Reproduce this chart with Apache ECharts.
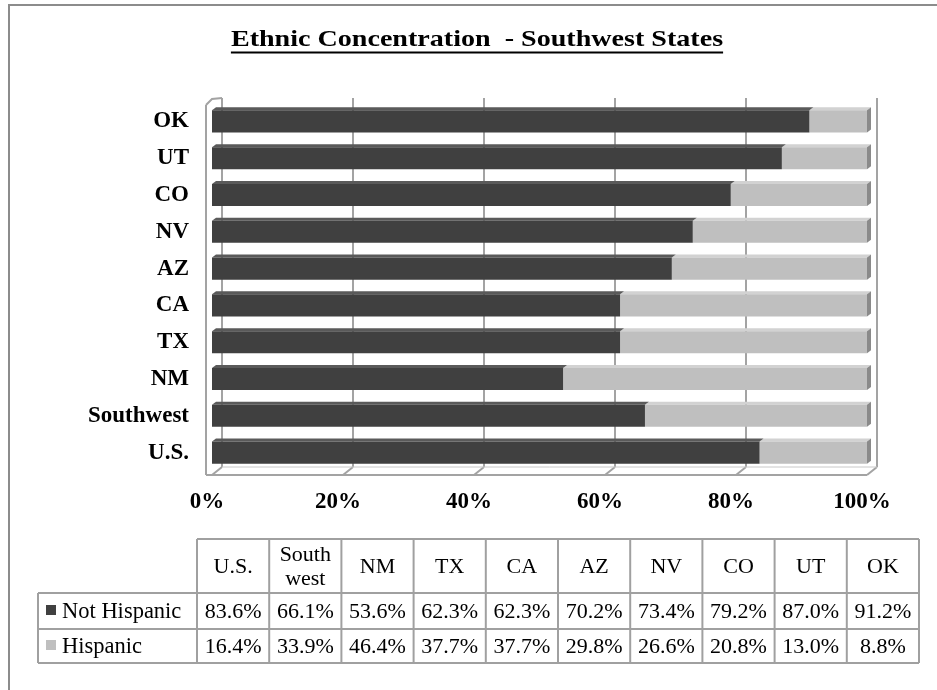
<!DOCTYPE html>
<html>
<head>
<meta charset="utf-8">
<script src="https://cdn.jsdelivr.net/npm/echarts@6/dist/echarts.min.js"></script>
<style>
  html, body { margin: 0; padding: 0; background: #fff; }
  #chart { width: 937px; height: 690px; }
</style>
</head>
<body>
<div id="chart"></div>
<script>
// Ethnic share by state (percent of population)
const categories = ['U.S.', 'Southwest', 'NM', 'TX', 'CA', 'AZ', 'NV', 'CO', 'UT', 'OK'];
const tableHeads = ['U.S.', 'South\nwest', 'NM', 'TX', 'CA', 'AZ', 'NV', 'CO', 'UT', 'OK'];
const seriesNames = ['Not Hispanic', 'Hispanic'];
const notHispanic = [83.6, 66.1, 53.6, 62.3, 62.3, 70.2, 73.4, 79.2, 87.0, 91.2];
const hispanic = [16.4, 33.9, 46.4, 37.7, 37.7, 29.8, 26.6, 20.8, 13.0, 8.8];
const xTicks = [0, 20, 40, 60, 80, 100];
const titleText = 'Ethnic Concentration  - Southwest States';

const SERIF = '"Liberation Serif", "Times New Roman", serif';
const frontColors = ['#404040', '#bfbfbf'];
const topColors = ['#5a5a5a', '#d2d2d2'];
const capColor = '#8a8a8a';
const lineGray = '#a3a3a3';

// depth of the floor/walls and of the bars
const WALL_D = [10, -8];
const BAR_D = [4, -3];

const chart = echarts.init(document.getElementById('chart'), null, { renderer: 'canvas' });

// stacked segments: [catIndex, start, end]
function segments(values, base) {
  return values.map((v, i) => [i, base ? base[i] : 0, (base ? base[i] : 0) + v]);
}
const segNot = segments(notHispanic);
const segHis = segments(hispanic, notHispanic);

function barRender(seriesIdx, withCap) {
  return function (params, api) {
    const cat = api.value(0);
    const p0 = api.coord([api.value(1), cat]);
    const p1 = api.coord([api.value(2), cat]);
    const h = api.size([0, 1])[1] * 0.6;
    const yTop = p0[1] - h / 2;
    const yBot = p0[1] + h / 2;
    const x0 = p0[0], x1 = p1[0];
    const [dx, dy] = BAR_D;
    const children = [
      {
        type: 'polygon',
        shape: { points: [[x0, yTop], [x0 + dx, yTop + dy], [x1 + dx, yTop + dy], [x1, yTop]] },
        style: { fill: topColors[seriesIdx] }
      },
      {
        type: 'rect',
        shape: { x: x0, y: yTop, width: x1 - x0, height: yBot - yTop },
        style: { fill: frontColors[seriesIdx] }
      }
    ];
    if (withCap) {
      children.push({
        type: 'polygon',
        shape: { points: [[x1, yTop], [x1 + dx, yTop + dy], [x1 + dx, yBot + dy], [x1, yBot]] },
        style: { fill: capColor }
      });
    }
    return { type: 'group', children };
  };
}

// walls and floor of the plot box
function frameRender(params, api) {
  const cs = params.coordSys;
  const [dx, dy] = WALL_D;
  const floorFront = cs.y + cs.height + 4;
  const floorBack = floorFront + dy;
  const wallTop = cs.y - 5;
  const children = [];
  const ls = { stroke: lineGray, lineWidth: 2, fill: null };
  xTicks.forEach(t => {
    const xf = api.coord([t, 0])[0];
    const xb = xf + dx;
    children.push({ type: 'line', shape: { x1: xb, y1: wallTop, x2: xb, y2: floorBack }, style: ls });
    children.push({ type: 'line', shape: { x1: xb, y1: floorBack, x2: xf, y2: floorFront }, style: ls });
  });
  const xl = api.coord([0, 0])[0];
  const xr = api.coord([100, 0])[0];
  // floor edges
  children.push({ type: 'line', shape: { x1: xl - 6, y1: floorFront, x2: xr, y2: floorFront }, style: ls });
  children.push({ type: 'line', shape: { x1: xl + dx, y1: floorBack, x2: xr + dx, y2: floorBack }, style: { stroke: '#c8c8c8', lineWidth: 1 } });
  // left wall
  children.push({ type: 'line', shape: { x1: xl - 6, y1: wallTop + 7, x2: xl - 6, y2: floorFront }, style: ls });
  children.push({ type: 'polyline', shape: { points: [[xl - 6, wallTop + 7], [xl, wallTop + 1], [xl + dx, wallTop]] }, style: ls });
  return { type: 'group', children };
}

function buildTable() {
  const els = [];
  const x0 = 197, colW = 72.2, xLab = 38;
  const yHead = 539, yR1 = 593, yR2 = 629, yEnd = 663;
  const xEnd = x0 + colW * categories.length;
  const ls = { stroke: '#a0a0a0', lineWidth: 2 };
  const hl = (xa, xb, y) => els.push({ type: 'line', shape: { x1: xa, y1: y, x2: xb, y2: y }, style: ls });
  const vl = (x, ya, yb) => els.push({ type: 'line', shape: { x1: x, y1: ya, x2: x, y2: yb }, style: ls });
  hl(x0, xEnd, yHead);
  hl(xLab, xEnd, yR1);
  hl(xLab, xEnd, yR2);
  hl(xLab, xEnd, yEnd);
  vl(xLab, yR1, yEnd);
  for (let i = 0; i <= categories.length; i++) vl(x0 + colW * i, yHead, yEnd);
  const font = '22px ' + SERIF;
  tableHeads.forEach((h, i) => {
    const two = h.indexOf('\n') >= 0;
    els.push({
      type: 'text',
      style: {
        text: h, x: x0 + colW * (i + 0.5), y: (yHead + yR1) / 2 + 1,
        align: 'center', verticalAlign: 'middle', font, fill: '#000',
        lineHeight: two ? 24 : 22
      }
    });
  });
  const rows = [notHispanic, hispanic];
  const rowY = [(yR1 + yR2) / 2 + 1, (yR2 + yEnd) / 2 + 1];
  rows.forEach((vals, r) => {
    els.push({ type: 'rect', shape: { x: 46, y: rowY[r] - 7, width: 10, height: 10 }, style: { fill: frontColors[r] } });
    els.push({
      type: 'text',
      style: { text: seriesNames[r], x: 62, y: rowY[r], align: 'left', verticalAlign: 'middle', font: '22.5px ' + SERIF, fill: '#000' }
    });
    vals.forEach((v, i) => {
      els.push({
        type: 'text',
        style: {
          text: v.toFixed(1) + '%', x: x0 + colW * (i + 0.5), y: rowY[r],
          align: 'center', verticalAlign: 'middle', font, fill: '#000'
        }
      });
    });
  });
  return els;
}

// title with underline (type is slightly widened)
const titleFont = 'bold 24px ' + SERIF;
const titleStretch = 1.17;
const measure = document.createElement('canvas').getContext('2d');
measure.font = titleFont;
const titleW = measure.measureText(titleText).width * titleStretch;
const titleCx = 477;

const option = {
  animation: false,
  backgroundColor: '#fff',
  grid: { left: 212, width: 655, top: 103, height: 368, containLabel: false },
  xAxis: {
    type: 'value', min: 0, max: 100, interval: 20,
    axisLine: { show: false }, axisTick: { show: false }, splitLine: { show: false },
    axisLabel: {
      formatter: '{value}%', margin: 20, padding: [0, 10, 0, 0],
      fontFamily: SERIF, fontSize: 23, fontWeight: 'bold', color: '#000'
    }
  },
  yAxis: {
    type: 'category', data: categories,
    axisLine: { show: false }, axisTick: { show: false },
    axisLabel: { margin: 23, fontFamily: SERIF, fontSize: 23, fontWeight: 'bold', color: '#000' }
  },
  series: [
    {
      type: 'custom', name: 'frame', renderItem: frameRender, data: [[0]], silent: true, z: 1,
      encode: { x: -1, y: -1 }, clip: false
    },
    {
      type: 'custom', name: seriesNames[0], renderItem: barRender(0, false), data: segNot, z: 3,
      encode: { x: [1, 2], y: 0 }
    },
    {
      type: 'custom', name: seriesNames[1], renderItem: barRender(1, true), data: segHis, z: 2,
      encode: { x: [1, 2], y: 0 }
    }
  ],
  graphic: [
    {
      type: 'rect', shape: { x: 9, y: 5, width: 960, height: 720 },
      style: { fill: null, stroke: '#8c8c8c', lineWidth: 2 }, silent: true, z: 0
    },
    {
      type: 'text', x: titleCx, y: 40, scaleX: titleStretch,
      style: { text: titleText, x: 0, y: 0, align: 'center', verticalAlign: 'middle', font: titleFont, fill: '#000' }
    },
    {
      type: 'line', shape: { x1: titleCx - titleW / 2, y1: 52.5, x2: titleCx + titleW / 2, y2: 52.5 },
      style: { stroke: '#000', lineWidth: 2 }
    },
    { type: 'group', children: buildTable() }
  ]
};
chart.setOption(option);
</script>
</body>
</html>
